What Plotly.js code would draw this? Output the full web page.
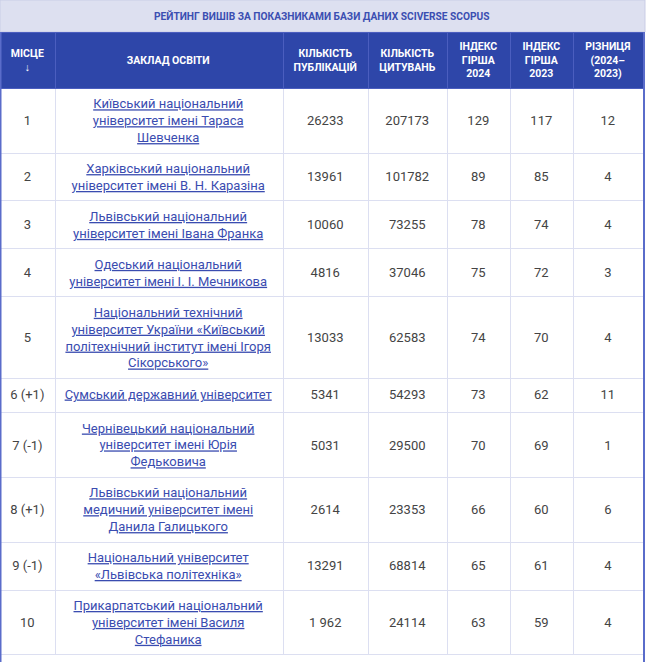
<!DOCTYPE html>
<html>
<head>
<meta charset="utf-8">
<script src="https://cdn.plot.ly/plotly-3.0.1.min.js"></script>
<style>
html,body{margin:0;padding:0;background:#fff;}
#chart{width:647px;height:662px;}
</style>
</head>
<body>
<div id="chart"></div>
<script>
const title = "РЕЙТИНГ ВИШІВ ЗА ПОКАЗНИКАМИ БАЗИ ДАНИХ SCIVERSE SCOPUS";
const headers = ["МІСЦЕ<br>↓", "ЗАКЛАД ОСВІТИ", "КІЛЬКІСТЬ<br>ПУБЛІКАЦІЙ", "КІЛЬКІСТЬ<br>ЦИТУВАНЬ", "ІНДЕКС<br>ГІРША<br>2024", "ІНДЕКС<br>ГІРША<br>2023", "РІЗНИЦЯ<br>(2024–<br>2023)"];
const places = ["1", "2", "3", "4", "5", "6 (+1)", "7 (-1)", "8 (+1)", "9 (-1)", "10"];
const universities = [
  "Київський національний<br>університет імені Тараса<br>Шевченка",
  "Харківський національний<br>університет імені В. Н. Каразіна",
  "Львівський національний<br>університет імені Івана Франка",
  "Одеський національний<br>університет імені І. І. Мечникова",
  "Національний технічний<br>університет України «Київський<br>політехнічний інститут імені Ігоря<br>Сікорського»",
  "Сумський державний університет",
  "Чернівецький національний<br>університет імені Юрія<br>Федьковича",
  "Львівський національний<br>медичний університет імені<br>Данила Галицького",
  "Національний університет<br>«Львівська політехніка»",
  "Прикарпатський національний<br>університет імені Василя<br>Стефаника"
];
const publications = ["26233", "13961", "10060", "4816", "13033", "5341", "5031", "2614", "13291", "1 962"];
const citations = [207173, 101782, 73255, 37046, 62583, 54293, 29500, 23353, 68814, 24114];
const hIndex2024 = [129, 89, 78, 75, 74, 73, 70, 66, 65, 63];
const hIndex2023 = [117, 85, 74, 72, 70, 62, 69, 60, 61, 59];
const difference = [12, 4, 4, 3, 4, 11, 1, 6, 4, 4];

// ---- styling ----
const W = 647, H = 662, titleH = 32, tableW = 643;
const colW = [55, 228, 85, 79, 63, 63, 70];
const BODY_FONT = 13, HEAD_FONT = 10.5, LS = 1.3, CELL_PAD = 8, EM_ADV = 1.028;
const NB = "\u00A0", EM = "\u2003";
const splitLines = s => String(s).split("<br>");

// invisible leading em-spaces: with text-anchor middle this puts each line's visible
// part in the middle of its column and keeps the row's top line anchored
function pad(w, fs) {
  const unit = fs * EM_ADV;
  const P = w - 2 * CELL_PAD;
  const n = Math.floor(P / unit);
  const r = (P - n * unit) / EM_ADV;
  let s = EM.repeat(n);
  if (r > 0.3) s += `<span style="font-size:${r.toFixed(2)}px">${EM}</span>`;
  return s;
}
function cell(text, rowLines, w, fs, decorate) {
  const lines = splitLines(text);
  const shift = (rowLines - lines.length) * LS * fs / 2;
  const out = lines.map(l => {
    let c = String(l).replace(/ /g, NB);
    if (decorate) c = decorate(c);
    if (shift > 0.01) c = `<span style="baseline-shift:-${shift.toFixed(2)}px">${c}</span>`;
    return `<span style="text-anchor:middle">${pad(w, fs)}${c}</span>`;
  }).join("<br>");
  return lines.length === 1 ? out + "<br>" : out;
}
const bold = c => `<b>${c}</b>`;
const link = c => `<span style="text-decoration-line:underline;text-decoration-style:dotted;text-decoration-color:#9aa5dc">${c}</span>`;

const rowLines = universities.map(u => splitLines(u).length);
const headLines = Math.max(...headers.map(h => splitLines(h).length));
const headerCells = headers.map((h, ci) => cell(h, headLines, colW[ci], HEAD_FONT, bold));

const cols = [places, universities, publications, citations, hIndex2024, hIndex2023, difference];
const cellValues = cols.map((col, ci) => col.map((v, ri) =>
  cell(v, rowLines[ri], colW[ci], BODY_FONT, ci === 1 ? link : null)));

const trace = {
  type: "table",
  domain: {x: [0, tableW / W], y: [0, 1 - titleH / H]},
  columnwidth: colW,
  header: {
    values: headerCells,
    align: "left",
    height: 56,
    fill: {color: "#2e46a9"},
    line: {color: "#4b5ebf", width: 1},
    font: {family: "Roboto, sans-serif", size: HEAD_FONT, color: "#ffffff"}
  },
  cells: {
    values: cellValues,
    align: "left",
    height: 34,
    fill: {color: "#ffffff"},
    line: {color: "#dcdff1", width: 1},
    font: {family: "Roboto, sans-serif", size: BODY_FONT,
           color: ["#444444", "#3a4cb0", "#444444", "#444444", "#444444", "#444444", "#444444"]}
  }
};

const layout = {
  width: W, height: H,
  margin: {l: 0, r: 0, t: 0, b: 0},
  paper_bgcolor: "#ffffff",
  shapes: [
    {type: "rect", xref: "paper", yref: "paper", x0: 0, x1: (tableW + 2) / W, y0: 1 - titleH / H, y1: 1,
     fillcolor: "#dde0f0", line: {color: "#c9cde6", width: 1}, layer: "below"},
    {type: "line", xref: "paper", yref: "paper", x0: 0.5 / W, x1: 0.5 / W, y0: 0, y1: 1 - titleH / H,
     line: {color: "#5a6cca", width: 2}},
    {type: "line", xref: "paper", yref: "paper", x0: (tableW + 1) / W, x1: (tableW + 1) / W, y0: 0, y1: 1 - titleH / H,
     line: {color: "#5a6cca", width: 2}}
  ],
  annotations: [
    {xref: "paper", yref: "paper", x: (tableW / 2) / W, y: 1 - (titleH / 2) / H, xanchor: "center", yanchor: "middle",
     showarrow: false, text: `<b>${title}</b>`,
     font: {family: "Roboto, sans-serif", size: 10.2, color: "#3b4fb2"}}
  ]
};

Plotly.newPlot("chart", [trace], layout, {displayModeBar: false, staticPlot: true});
</script>
</body>
</html>
